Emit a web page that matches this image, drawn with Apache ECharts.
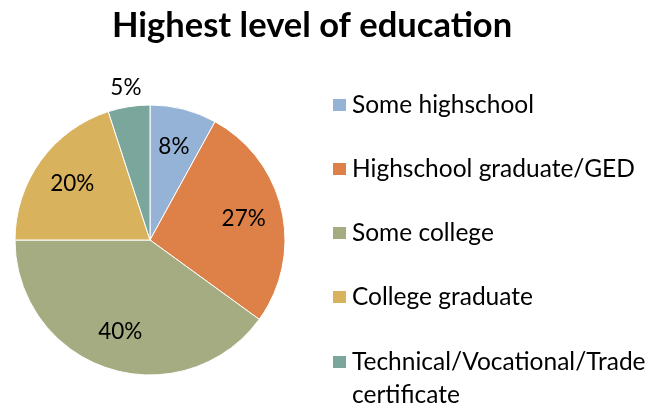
<!DOCTYPE html>
<html>
<head>
<meta charset="utf-8">
<script src="https://cdn.jsdelivr.net/npm/echarts@6/dist/echarts.min.js"></script>
<style>
html, body { margin: 0; padding: 0; background: #fff; }
#chart { width: 663px; height: 409px; }
</style>
</head>
<body>
<div id="chart"></div>
<script>
// Survey answers: highest level of education reached (percent of respondents)
const categories = [
  'Some highschool',
  'Highschool graduate/GED',
  'Some college',
  'College graduate',
  'Technical/Vocational/Trade certificate'
];
const shares = [8, 27, 40, 20, 5];
const sliceColors = ['#95B3D7', '#DE8149', '#A5AC81', '#D9B25E', '#7BA69C'];

const FONT = 'Lato';
const CENTER = [150, 240];

const pieData = categories.map((name, i) => ({
  name: name,
  value: shares[i],
  itemStyle: { color: sliceColors[i] }
}));

// Label carriers: transparent rings sharing the slice geometry, used only to
// place the percentage text at the desired distance from the centre.
function labelRing(radius, showIndex) {
  return {
    type: 'pie',
    silent: true,
    center: CENTER,
    radius: [0, radius],
    startAngle: 90,
    clockwise: true,
    animation: false,
    emphasis: { disabled: true },
    itemStyle: { color: 'rgba(0,0,0,0)', borderWidth: 0 },
    labelLine: { show: false },
    data: categories.map((name, i) => ({
      name: name,
      value: shares[i],
      label: {
        show: showIndex(i),
        position: 'inside',
        formatter: shares[i] + '%',
        color: '#000',
        fontFamily: FONT,
        fontSize: 22.5
      }
    }))
  };
}

const legendText = { fontFamily: FONT, fontSize: 24.5, color: '#000', lineHeight: 33 };
function legendBlock(names, top, formatter) {
  return {
    orient: 'vertical',
    left: 331,
    top: top,
    height: 330,
    padding: 0,
    itemWidth: 15,
    itemHeight: 14,
    itemGap: 31,
    icon: 'rect',
    selectedMode: false,
    formatter: formatter,
    textStyle: legendText,
    data: names
  };
}

const chart = echarts.init(document.getElementById('chart'), null, { renderer: 'canvas' });
chart.setOption({
  backgroundColor: '#fff',
  animation: false,
  title: {
    text: 'Highest level of education',
    left: 107,
    top: 3,
    textStyle: { fontFamily: FONT, fontWeight: 'bold', fontSize: 34.5, color: '#000' }
  },
  legend: [
    legendBlock(categories.slice(0, 4), 88.5),
    // the long entry wraps onto a second line; the leading blank line keeps
    // the swatch level with the first line of text
    legendBlock(categories.slice(4), 312.5, name => '\n' + name.replace('Trade ', 'Trade\n'))
  ],
  series: [
    {
      type: 'pie',
      center: CENTER,
      radius: [0, 135],
      startAngle: 90,
      clockwise: true,
      silent: true,
      emphasis: { disabled: true },
      itemStyle: { borderColor: '#fff', borderWidth: 1 },
      label: { show: false },
      labelLine: { show: false },
      data: pieData
    },
    labelRing(186, i => i !== 4),
    labelRing(302, i => i === 4)
  ]
});
</script>
</body>
</html>
